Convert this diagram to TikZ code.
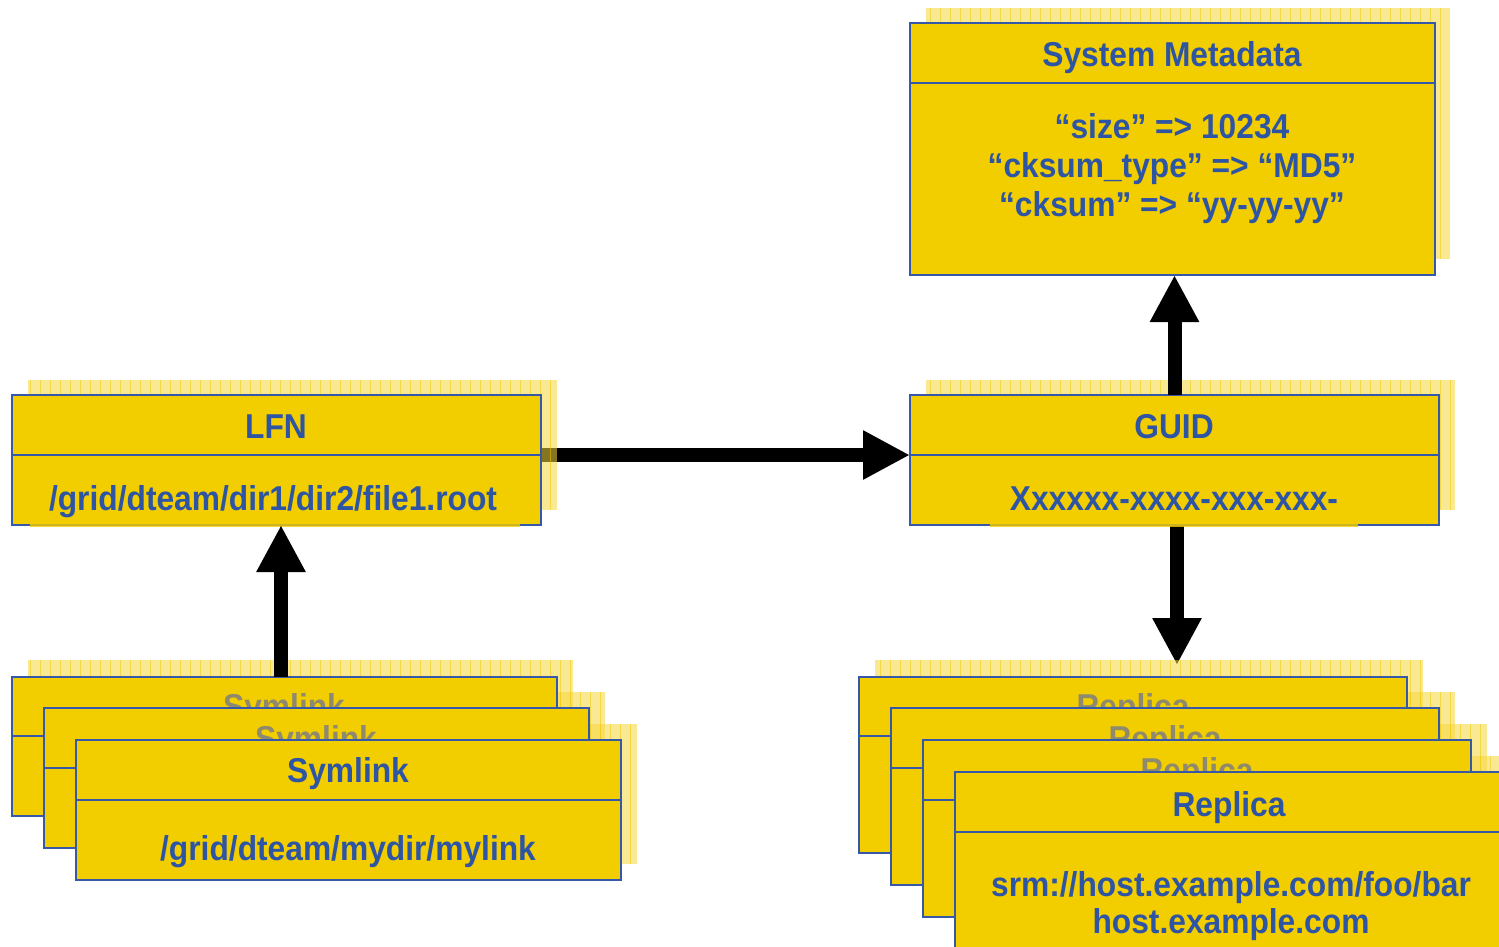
\documentclass[tikz,border=0pt]{standalone}
\usepackage{fontspec}
\setmainfont{Liberation Sans}[FakeStretch=0.92]
\usetikzlibrary{arrows.meta}
\pgfdeclarelayer{arrowlayer}
\pgfdeclarelayer{shadowlayer}
\pgfdeclarelayer{frontlayer}
\pgfsetlayers{arrowlayer,shadowlayer,main,frontlayer}
\definecolor{gold}{HTML}{F2CD00}
\definecolor{bordblue}{HTML}{3558A8}
\definecolor{txtblue}{HTML}{2E54A4}
\definecolor{ghost}{HTML}{8F8A6E}
\definecolor{shadefill}{HTML}{F7D73C}
\definecolor{shadegrid}{HTML}{F0C800}
\tikzset{
  boxpart/.style={draw=bordblue, line width=2pt, fill=gold, rectangle, inner sep=0pt, outer sep=0pt, anchor=north west},
  lbl/.style={text=txtblue, font=\fontsize{34.5}{39}\selectfont\bfseries, anchor=base, inner sep=0pt},
  ghostlbl/.style={lbl, text=ghost},
  bigarrow/.style={line width=14pt, black, -{Triangle[width=46pt,length=47pt]}},
}
\newcommand\shadowrect[4]{%
  \fill[shadefill, opacity=0.55] (#1,#2) rectangle (#3,#4);
  \begin{scope}
    \clip (#1,#2) rectangle (#3,#4);
    \draw[shadegrid, opacity=0.5, line width=0.8pt, step=10] (#1,#2) grid (#3,#4);
  \end{scope}}
\newcommand\cardbox[6]{%
  \node[boxpart, minimum width=#4pt, minimum height=#5pt] (#1head) at (#2,#3) {};
  \node[boxpart, minimum width=#4pt, minimum height=#6pt] (#1body) at (#1head.south west) {};}
\begin{document}
\begin{tikzpicture}[x=1pt,y=-1pt]
\begin{pgfonlayer}{arrowlayer}
  \fill[white] (0,0) rectangle (1499,946);
\end{pgfonlayer}
\useasboundingbox (0,0) rectangle (1499,946);

% shadows
\begin{pgfonlayer}{shadowlayer}
  \shadowrect{926}{8}{1450}{259}
  \shadowrect{28}{380}{557}{510}
  \shadowrect{926}{380}{1455}{510}
  \shadowrect{28}{660}{573}{800}
  \shadowrect{60}{692}{605}{832}
  \shadowrect{92}{724}{637}{864}
  \shadowrect{875}{660}{1423}{837}
  \shadowrect{907}{692}{1455}{869}
  \shadowrect{939}{724}{1487}{901}
  \shadowrect{971}{756}{1519}{934}
\end{pgfonlayer}

% System Metadata
\cardbox{meta}{910}{23}{525}{60}{192}
\node[lbl] (metat) at (1172,66) {System Metadata};
\node[lbl] (meta1) at (1172,138) {“size” => 10234};
\node[lbl] (meta2) at (1172,177) {“cksum\_type” => “MD5”};
\node[lbl] (meta3) at (1172,216) {“cksum” => “yy-yy-yy”};

% LFN
\cardbox{lfn}{12}{395}{529}{60}{70}
\node[lbl] (lfnt) at (276,438) {LFN};
\node[lbl] (lfnv) at (273,510) {/grid/dteam/dir1/dir2/file1.root};
\fill[gold, opacity=0.8] (30,524) rectangle (520,526.5);

% GUID
\cardbox{guid}{910}{395}{529}{60}{70}
\node[lbl] (guidt) at (1174,438) {GUID};
\node[lbl] (guidv) at (1174,510) {Xxxxxx-xxxx-xxx-xxx-};
\fill[gold, opacity=0.8] (990,524) rectangle (1358,526.5);

% Symlinks
\cardbox{syma}{12}{677}{545}{59}{80}
\node[ghostlbl] (symat) at (284,718) {Symlink};
\cardbox{symb}{44}{708}{545}{60}{80}
\node[ghostlbl] (symbt) at (316,750) {Symlink};
\cardbox{symc}{76}{740}{545}{60}{80}
\node[lbl] (symct) at (348,782) {Symlink};
\node[lbl] (symcv) at (348,860) {/grid/dteam/mydir/mylink};

% Replicas
\cardbox{repa}{859}{677}{548}{59}{117}
\node[ghostlbl] (repat) at (1133,718) {Replica};
\cardbox{repb}{891}{708}{548}{60}{117}
\node[ghostlbl] (repbt) at (1165,750) {Replica};
\cardbox{repc}{923}{740}{548}{60}{117}
\node[ghostlbl] (repct) at (1197,782) {Replica};
\cardbox{repd}{955}{772}{548}{60}{120}
\node[lbl] (repdt) at (1229,816) {Replica};
\node[lbl] (repdv1) at (1231,896) {srm://host.example.com/foo/bar};
\node[lbl] (repdv2) at (1231,933) {host.example.com};

% arrows
\coordinate (repin) at (1177,665);
\coordinate (symtop) at (281,677);
\begin{pgfonlayer}{arrowlayer}
  \draw[bigarrow] (lfnhead.south east) -- (guidhead.south west);
  \draw[bigarrow] (guidbody.south -| repin) -- (repin);
\end{pgfonlayer}
\begin{pgfonlayer}{frontlayer}
  \draw[bigarrow] (guidhead.north) -- (guidhead.north |- metabody.south);
  \draw[bigarrow] (symtop) -- (symtop |- lfnbody.south);
\end{pgfonlayer}
\end{tikzpicture}
\end{document}
